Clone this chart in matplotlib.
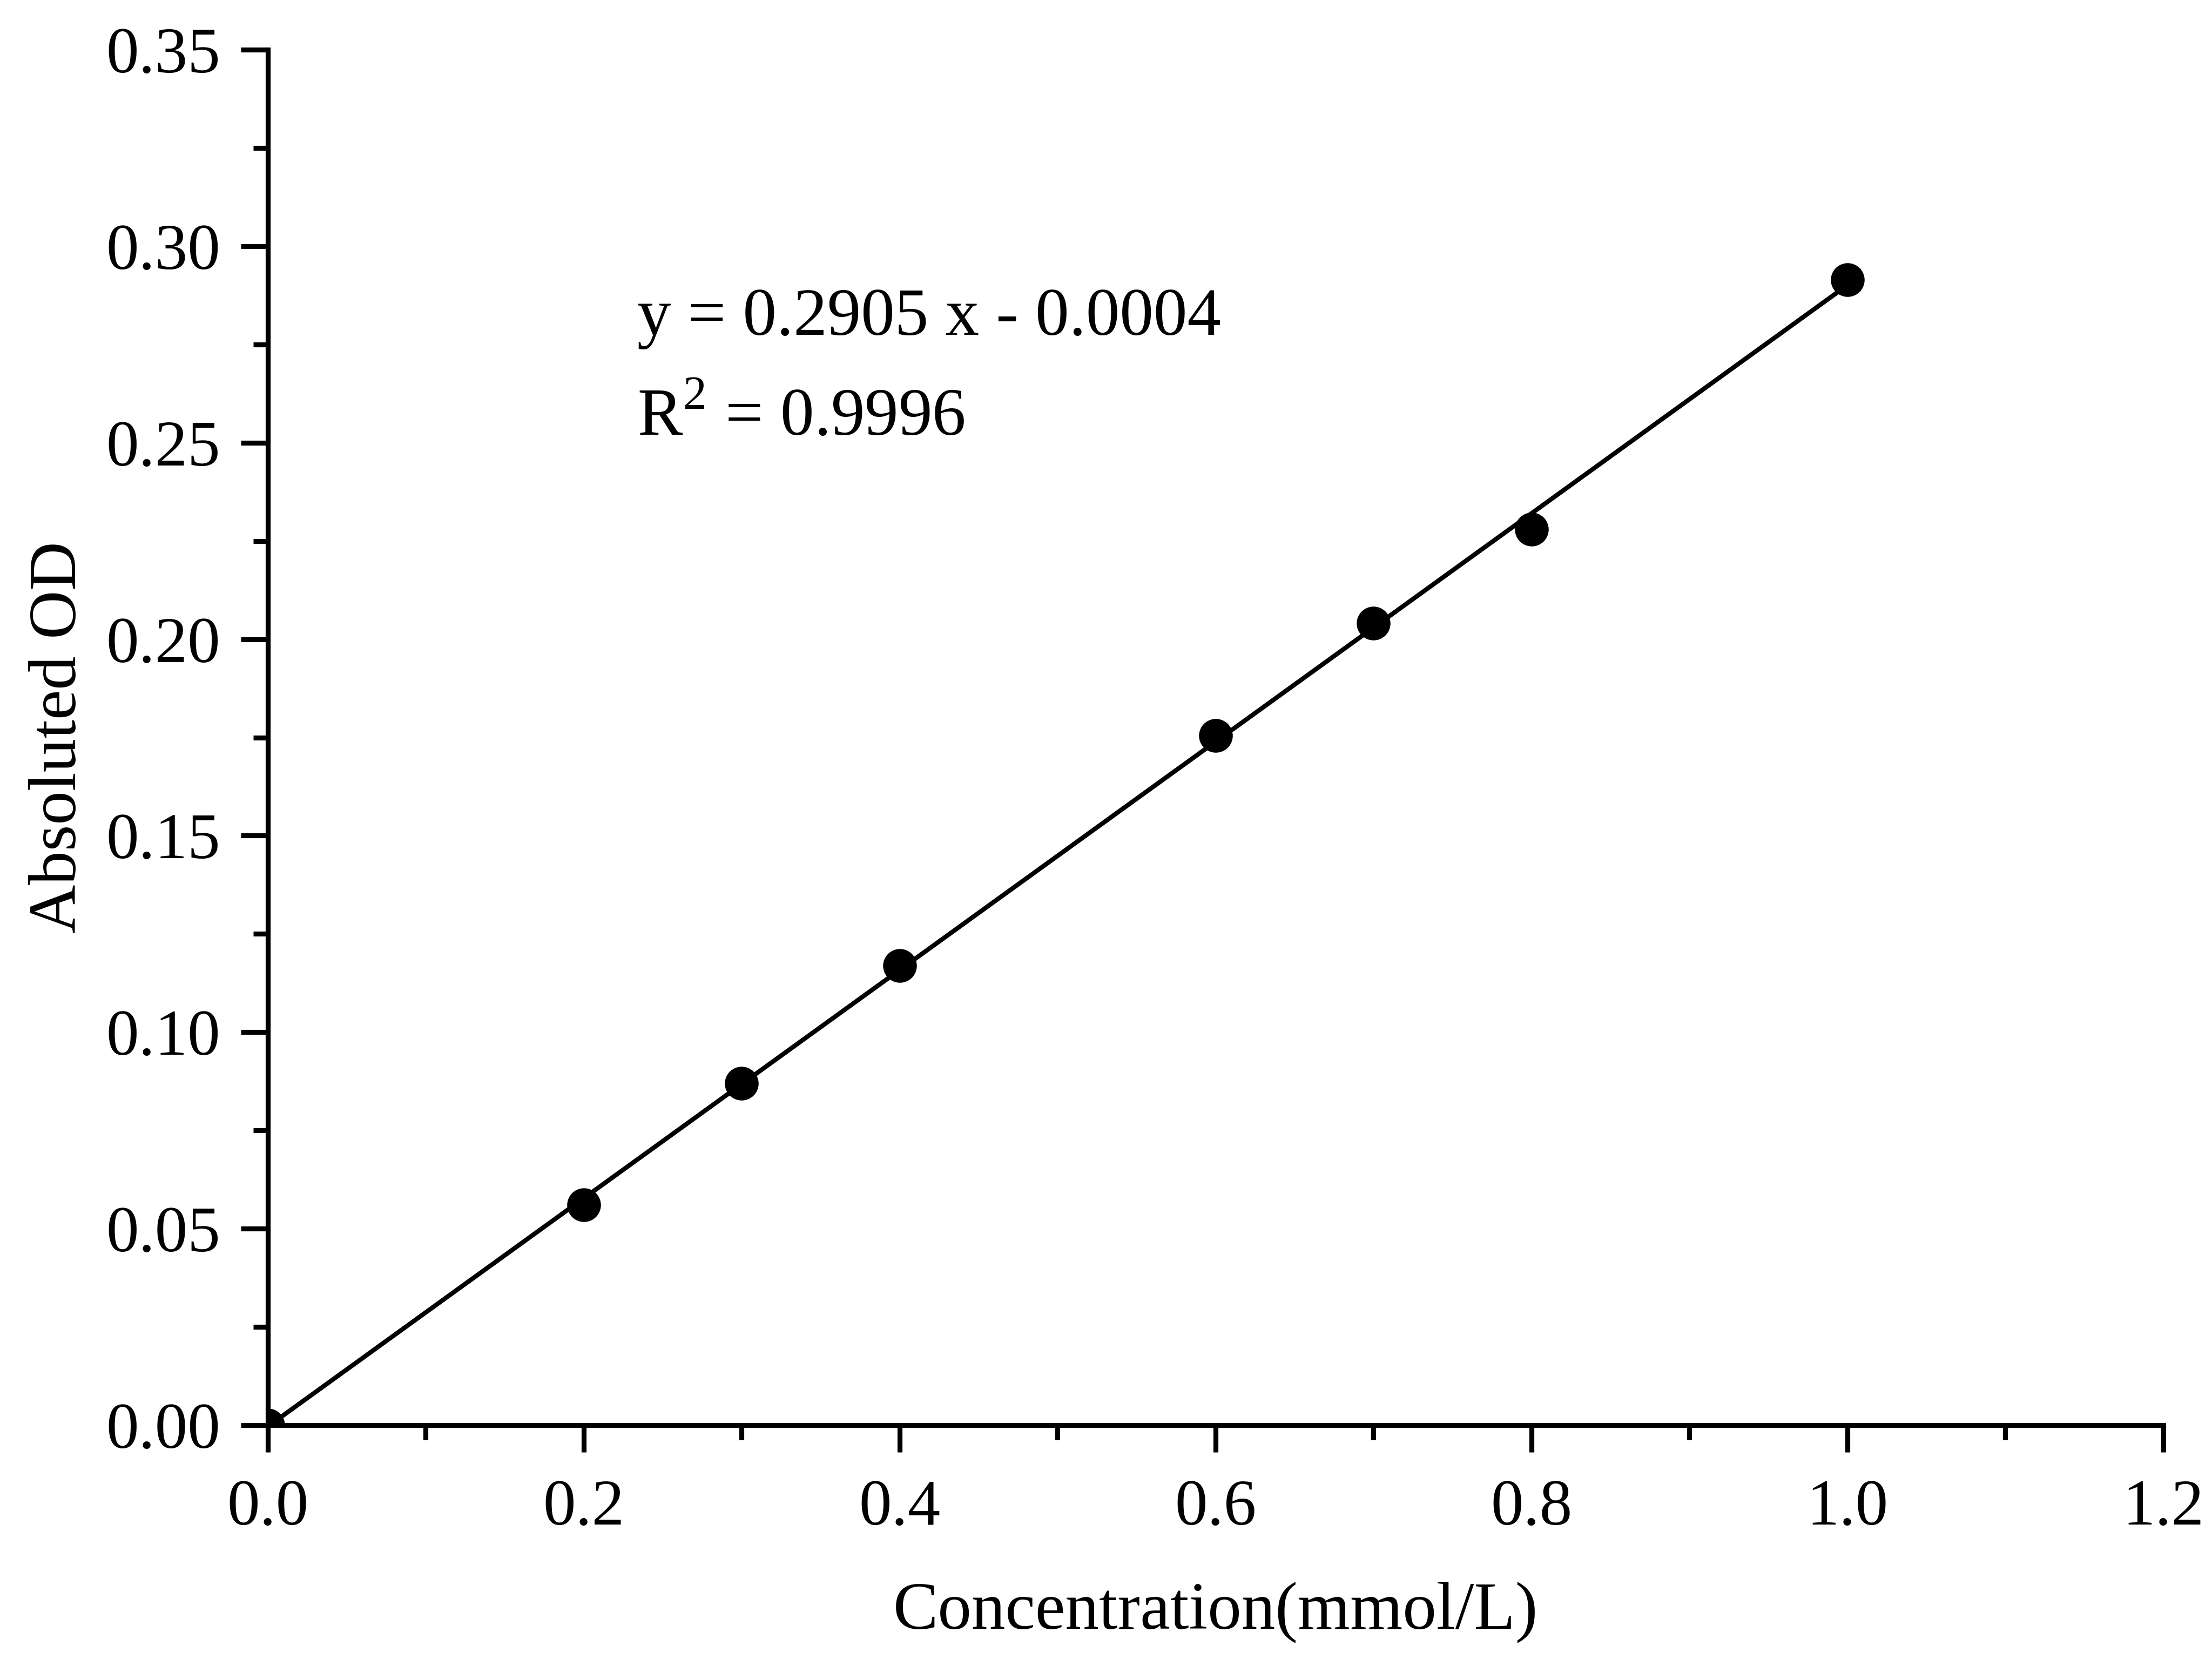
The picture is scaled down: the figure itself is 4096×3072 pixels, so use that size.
import matplotlib
matplotlib.use("Agg")
import matplotlib.pyplot as plt
from matplotlib.ticker import MultipleLocator, FormatStrFormatter

# Data
concentration = [0.0, 0.2, 0.3, 0.4, 0.6, 0.7, 0.8, 1.0]
absorbance = [0.0, 0.056, 0.087, 0.117, 0.1755, 0.204, 0.228, 0.2915]
slope = 0.2905
intercept = -0.0004
r_squared = 0.9996
fit_x = [0.0, 1.0]

x_label = "Concentration(mmol/L)"
y_label = "Absoluted OD"

plt.rcParams['font.family'] = ['Liberation Serif', 'DejaVu Serif']
plt.rcParams['mathtext.fontset'] = 'custom'
plt.rcParams['mathtext.rm'] = 'Liberation Serif'

fig = plt.figure(figsize=(4096/300, 3072/300), dpi=300)
ax = fig.add_axes([0.121, 0.141, 0.857, 0.829])

fit_y = [slope * v + intercept for v in fit_x]
ax.plot(fit_x, fit_y, color='black', lw=2.0, zorder=2)
ax.plot(concentration, absorbance, 'o', color='black', markersize=14, zorder=3)

ax.set_xlim(0, 1.2)
ax.set_ylim(0, 0.35)
ax.xaxis.set_major_locator(MultipleLocator(0.2))
ax.xaxis.set_minor_locator(MultipleLocator(0.1))
ax.yaxis.set_major_locator(MultipleLocator(0.05))
ax.yaxis.set_minor_locator(MultipleLocator(0.025))
ax.xaxis.set_major_formatter(FormatStrFormatter('%.1f'))
ax.yaxis.set_major_formatter(FormatStrFormatter('%.2f'))

for s in ['top', 'right']:
    ax.spines[s].set_visible(False)
for s in ['left', 'bottom']:
    ax.spines[s].set_linewidth(2.2)

ax.tick_params(which='major', direction='out', length=12, width=2.2, labelsize=29, pad=9)
ax.tick_params(which='minor', direction='out', length=6.5, width=2.2)
ax.tick_params(axis='x', pad=12)

ax.set_xlabel(x_label, fontsize=30, labelpad=19)
ax.set_ylabel(y_label, fontsize=30, labelpad=7)

ax.text(0.234, 0.2775, f"y = {slope} x - {abs(intercept):.4f}", fontsize=30,
        ha='left', va='baseline')
ax.text(0.234, 0.252, r"R$^{2}$" + f" = {r_squared}", fontsize=30,
        ha='left', va='baseline')

fig.savefig("out.png", dpi=300, facecolor='white')
